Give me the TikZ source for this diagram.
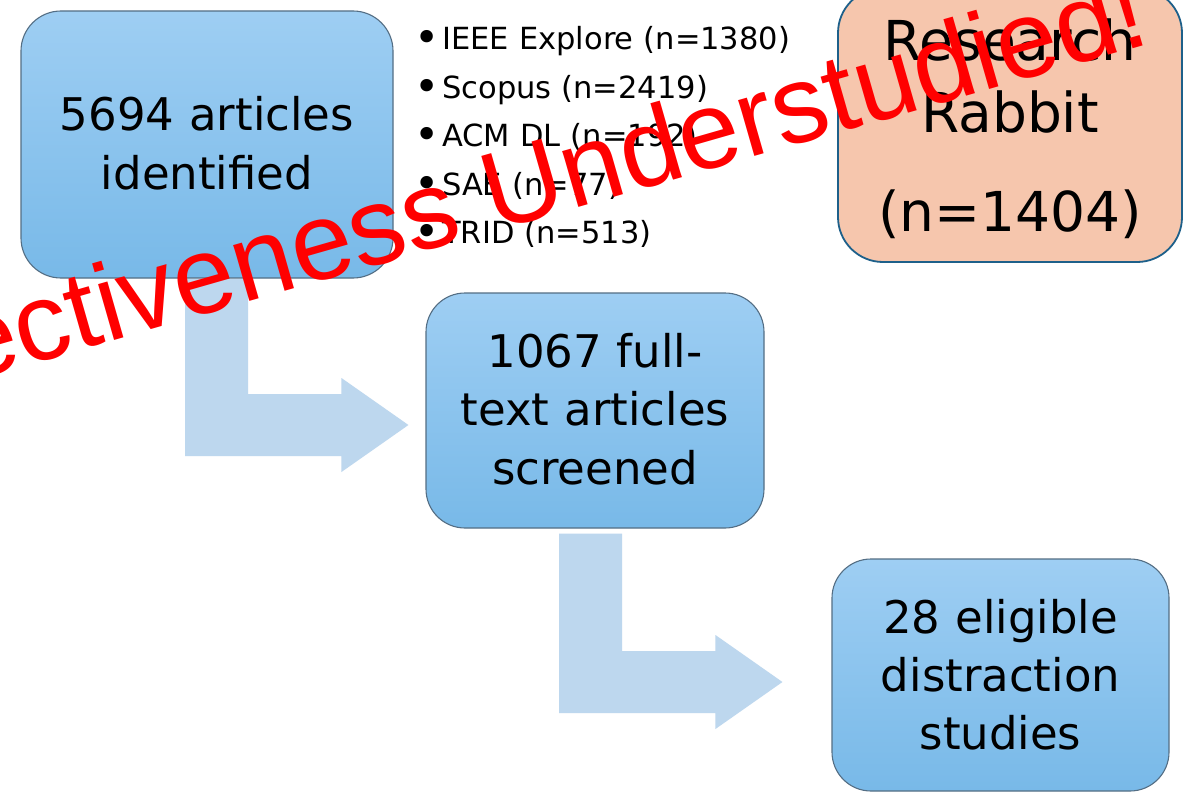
\documentclass[tikz,border=0pt]{standalone}
\usepackage{fontspec}
\setmainfont{DejaVu Sans}
\newfontfamily\stampfont{Liberation Sans}
\usetikzlibrary{calc}

\definecolor{boxtop}{RGB}{158,206,243}
\definecolor{boxbot}{RGB}{120,185,232}
\definecolor{boxline}{RGB}{84,110,132}
\definecolor{flowblue}{RGB}{189,215,238}
\definecolor{peach}{RGB}{246,198,173}
\definecolor{peachline}{RGB}{30,96,138}
\definecolor{stampred}{RGB}{255,0,0}

% bullet marker for the source list
\newcommand\srcitem{\makebox[28pt][l]{\raisebox{-0.09em}{\scalebox{1.4}{•}}}}

% bent block arrow: #1 = top centre of the stem, #2 = tip
\newcommand\bentflow[2]{%
  \fill[flow] let \p1=(#1), \p2=(#2) in
    (\x1-31.5pt,\y1) -- (\x1+31.5pt,\y1) -- (\x1+31.5pt,\y2+31pt)
    -- (\x2-67pt,\y2+31pt) -- (\x2-67pt,\y2+47pt) -- (\p2)
    -- (\x2-67pt,\y2-47pt) -- (\x2-67pt,\y2-31pt)
    -- (\x1-31.5pt,\y2-31pt) -- cycle;}

\begin{document}
\begin{tikzpicture}[x=1pt,y=-1pt,
  stagebox/.style={rounded corners=#1, draw=boxline, line width=1.1pt,
    top color=boxtop, bottom color=boxbot, inner sep=0pt},
  rabbitbox/.style={rounded corners=45pt, draw=peachline, line width=1.8pt,
    fill=peach, inner sep=0pt},
  boxtext/.style={anchor=base, text width=340pt, align=center, inner sep=0pt},
  flow/.style={fill=flowblue}]

\useasboundingbox (0,0) rectangle (1197,792);
\clip (0,0) rectangle (1197,792);
\fill[white] (0,0) rectangle (1197,792);

% stages of the review
\node[stagebox=40pt, minimum width=372pt, minimum height=267pt] (ident) at (207,144.5) {};
\node[stagebox=39pt, minimum width=338pt, minimum height=235pt] (screen) at (595,410.5) {};
\node[stagebox=39pt, minimum width=337pt, minimum height=232pt] (elig) at (1000.5,675) {};
\node[rabbitbox, minimum width=344pt, minimum height=274pt] (rabbit) at (1010,125) {};

\node[boxtext, font=\fontsize{45}{59}\selectfont] (identtxt) at (207,130)
  {5694 articles\\identified};
\node[boxtext, font=\fontsize{45}{58.5}\selectfont] (screentxt) at (595,367)
  {1067 full-\\text articles\\screened};
\node[boxtext, font=\fontsize{45}{58}\selectfont] (eligtxt) at (1000.5,633)
  {28 eligible\\distraction\\studies};
\node[boxtext, font=\fontsize{55}{72}\selectfont] (rabbittxt) at (1010,61)
  {Research\\Rabbit\\[27pt](n=1404)};

% databases searched
\node[anchor=base west, text width=420pt, align=left, inner sep=0pt,
  font=\fontsize{30.5}{48.5}\selectfont] (sources) at (414,50)
  {\srcitem IEEE Explore (n=1380)\\
   \srcitem Scopus (n=2419)\\
   \srcitem ACM DL (n=192)\\
   \srcitem SAE (n=77)\\
   \srcitem TRID (n=513)};

% flow between stages
\coordinate (f1s) at ($(ident.south)+(9.5,0.6)$);
\coordinate (f1t) at ($(screen.west)+(-17,14.5)$);
\coordinate (f2s) at ($(screen.south)+(-4.5,5)$);
\coordinate (f2t) at ($(elig.west)+(-49,7)$);
\bentflow{f1s}{f1t}
\bentflow{f2s}{f2t}

% red stamp across the chart
\node[text=stampred, font=\stampfont\fontsize{110}{110}\selectfont, rotate=16,
  anchor=base west, inner sep=0pt] (stamp) at (-34,383) {ectiveness Understudied!};
\end{tikzpicture}
\end{document}
